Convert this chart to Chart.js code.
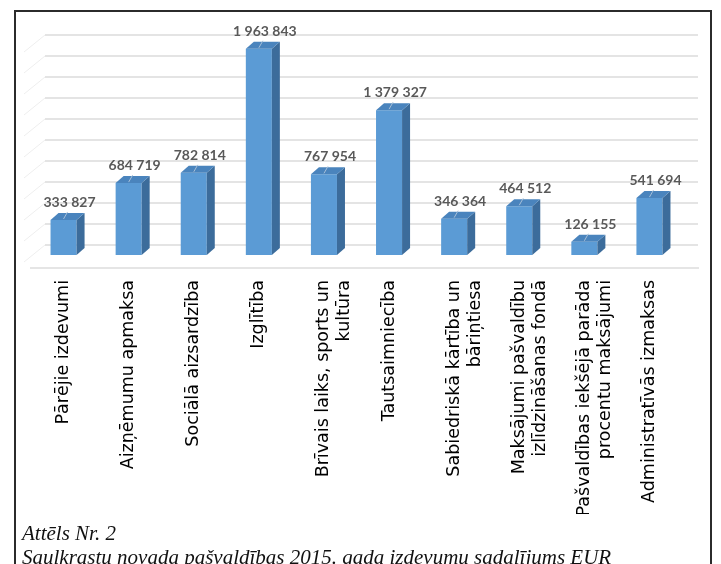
<!DOCTYPE html>
<html>
<head>
<meta charset="utf-8">
<title>Izdevumu sadalījums</title>
<style>
  body { margin: 0; background: #fff; width: 721px; height: 564px; overflow: hidden; position: relative; }
  #wrap { position: absolute; left: 0; top: 0; width: 721px; height: 514px; }
  .frame { position: absolute; left: 14px; top: 10px; width: 694px; height: 600px; border: 2px solid #2b2b2b; pointer-events: none; }
  .caption { position: absolute; left: 22px; font-family: "Liberation Serif", serif; font-style: italic; font-size: 21px; color: #111; white-space: nowrap; }
</style>
</head>
<body>
  <div id="wrap"><canvas id="chart"></canvas></div>
  <div class="frame"></div>
  <div class="caption" style="top:521px">Attēls Nr. 2</div>
  <div class="caption" style="top:545px">Saulkrastu novada pašvaldības 2015. gada izdevumu sadalījums EUR</div>

  <script src="https://cdn.jsdelivr.net/npm/chart.js"></script>
  <script>
    // dati
    const categories = [
      'Pārējie izdevumi',
      'Aizņēmumu apmaksa',
      'Sociālā aizsardzība',
      'Izglītība',
      ['Brīvais laiks, sports un', 'kultūra'],
      'Tautsaimniecība',
      ['Sabiedriskā kārtība un', 'bāriņtiesa'],
      ['Maksājumi pašvaldību', 'izlīdzināšanas fondā'],
      ['Pašvaldības iekšējā parāda', 'procentu maksājumi'],
      'Administratīvās izmaksas'
    ];
    const expenses = [333827, 684719, 782814, 1963843, 767954, 1379327, 346364, 464512, 126155, 541694];

    const DX = 8, DY = 7;      // 3D dziļums stabiņiem
    const WALL = 10;           // aizmugurējās sienas nobīde

    function fmt(v) {
      return String(v).replace(/\B(?=(\d{3})+(?!\d))/g, ' ');
    }

    // režģis uz aizmugurējās sienas + grīdas līnija
    const wallPlugin = {
      id: 'wall',
      beforeDatasetsDraw(chart) {
        const ctx = chart.ctx, y = chart.scales.y, area = chart.chartArea;
        ctx.save();
        y.ticks.forEach(t => {
          const py = y.getPixelForValue(t.value) - WALL;
          ctx.strokeStyle = '#e4e4e4';
          ctx.lineWidth = 2;
          ctx.beginPath();
          ctx.moveTo(45, py);
          ctx.lineTo(698, py);
          ctx.stroke();
          ctx.strokeStyle = '#eeeeee';
          ctx.lineWidth = 1;
          ctx.beginPath();
          ctx.moveTo(45, py);
          ctx.lineTo(24, py + 17);
          ctx.stroke();
        });
        ctx.strokeStyle = '#dcdcdc';
        ctx.lineWidth = 1.5;
        ctx.beginPath();
        ctx.moveTo(30, area.bottom + 13);
        ctx.lineTo(699, area.bottom + 13);
        ctx.stroke();
        ctx.restore();
      }
    };

    // sānu un augšējās skaldnes, vērtību etiķetes
    const bar3dPlugin = {
      id: 'bar3d',
      afterDatasetsDraw(chart) {
        const ctx = chart.ctx;
        const meta = chart.getDatasetMeta(0);
        ctx.save();
        meta.data.forEach((bar, i) => {
          const p = bar.getProps(['x', 'y', 'base', 'width'], true);
          const l = p.x - p.width / 2, r = p.x + p.width / 2;
          // sāns
          ctx.fillStyle = '#3c6c9b';
          ctx.beginPath();
          ctx.moveTo(r, p.y);
          ctx.lineTo(r + DX, p.y - DY);
          ctx.lineTo(r + DX, p.base - DY);
          ctx.lineTo(r, p.base);
          ctx.closePath();
          ctx.fill();
          // augša
          ctx.fillStyle = '#4a84bd';
          ctx.beginPath();
          ctx.moveTo(l, p.y);
          ctx.lineTo(l + DX, p.y - DY);
          ctx.lineTo(r + DX, p.y - DY);
          ctx.lineTo(r, p.y);
          ctx.closePath();
          ctx.fill();
          // vadlīnija
          ctx.strokeStyle = '#a6bfd8';
          ctx.lineWidth = 1;
          ctx.beginPath();
          ctx.moveTo(p.x, p.y - 1);
          ctx.lineTo(p.x + 4, p.y - DY - 1);
          ctx.stroke();
          // vērtība
          ctx.fillStyle = '#595959';
          ctx.font = 'bold 14px Lato';
          ctx.textAlign = 'center';
          ctx.textBaseline = 'alphabetic';
          ctx.fillText(fmt(expenses[i]), p.x + 6, p.y - 13);
        });
        ctx.restore();
      }
    };

    new Chart(document.getElementById('chart'), {
      type: 'bar',
      data: {
        labels: categories,
        datasets: [{
          data: expenses,
          backgroundColor: '#5b9bd5',
          borderWidth: 0,
          barPercentage: 0.8,
          categoryPercentage: 0.5
        }]
      },
      options: {
        responsive: true,
        maintainAspectRatio: false,
        animation: false,
        layout: { padding: { left: 31, right: 39, top: 45, bottom: 0 } },
        plugins: { legend: { display: false }, tooltip: { enabled: false } },
        scales: {
          y: {
            display: false,
            min: 0,
            max: 2000000,
            ticks: { stepSize: 200000 }
          },
          x: {
            grid: { display: false },
            border: { display: false },
            // garās etiķetes: neierobežot ass augstumu ar pusi no diagrammas
            afterFit: s => { s.height = 259; },
            ticks: {
              minRotation: 90,
              maxRotation: 90,
              autoSkip: false,
              padding: 17,
              color: '#000',
              font: { family: 'DejaVu Sans', size: 17.5 }
            }
          }
        }
      },
      plugins: [wallPlugin, bar3dPlugin]
    });
  </script>
</body>
</html>
